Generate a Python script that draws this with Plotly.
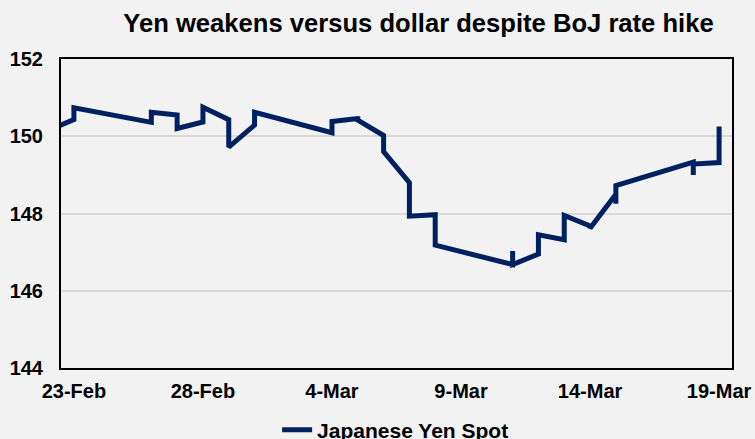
import plotly.graph_objects as go

# Intraday-ish readings: several values per date produce the vertical steps
dates = [
    "2024-02-22",
    "2024-02-23", "2024-02-23",
    "2024-02-26", "2024-02-26",
    "2024-02-27", "2024-02-27",
    "2024-02-28", "2024-02-28",
    "2024-02-29", "2024-02-29",
    "2024-03-01", "2024-03-01",
    "2024-03-04", "2024-03-04",
    "2024-03-05", "2024-03-05", "2024-03-05",
    "2024-03-06", "2024-03-06",
    "2024-03-07", "2024-03-07",
    "2024-03-08", "2024-03-08",
    "2024-03-11", "2024-03-11", "2024-03-11",
    "2024-03-12", "2024-03-12",
    "2024-03-13", "2024-03-13",
    "2024-03-14", "2024-03-14",
    "2024-03-15", "2024-03-15", "2024-03-15",
    "2024-03-18", "2024-03-18", "2024-03-18",
    "2024-03-19", "2024-03-19",
]
yen_spot = [
    150.15,
    150.43, 150.74,
    150.36, 150.62,
    150.55, 150.20,
    150.37, 150.75,
    150.43, 149.72,
    150.29, 150.62,
    150.09, 150.38,
    150.46, 150.52, 150.42,
    150.02, 149.60,
    148.80, 147.93,
    147.97, 147.18,
    146.68, 147.03, 146.68,
    146.95, 147.45,
    147.32, 147.95,
    147.68, 147.62,
    148.50, 148.25, 148.72,
    149.33, 149.00, 149.28,
    149.32, 150.25,
]
series_name = "Japanese Yen Spot"
title_text = "Yen weakens versus dollar despite BoJ rate hike"
x_tick_vals = ["2024-02-23", "2024-02-28", "2024-03-04", "2024-03-09", "2024-03-14", "2024-03-19"]
x_tick_text = ["23-Feb", "28-Feb", "4-Mar", "9-Mar", "14-Mar", "19-Mar"]
y_tick_vals = [144, 146, 148, 150, 152]

NAVY = "#002060"
BG = "#F2F2F2"
FONT = "Liberation Sans, Arial, sans-serif"

fig = go.Figure()
fig.add_trace(go.Scatter(
    x=dates, y=yen_spot, mode="lines", name=series_name,
    line=dict(color=NAVY, width=5), showlegend=True,
))

fig.update_layout(
    width=755, height=439,
    margin=dict(l=61, r=23, t=59, b=71),
    paper_bgcolor=BG, plot_bgcolor=BG,
    font=dict(family=FONT, color="#000000"),
    title=dict(
        text=title_text, x=418.5 / 755, xref="container", xanchor="center",
        y=1 - 23 / 439, yref="container", yanchor="middle",
        font=dict(size=25.6, weight="bold", family=FONT, color="#000000"),
    ),
    legend=dict(
        orientation="h", xref="container", x=0.524, xanchor="center",
        yref="container", y=1 - 430 / 439, yanchor="middle",
        font=dict(size=21, weight="bold", family=FONT, color="#000000"),
        bgcolor="rgba(0,0,0,0)",
    ),
    showlegend=True,
)

fig.update_xaxes(
    type="date",
    range=["2024-02-22 12:00", "2024-03-19 12:00"],
    tickmode="array", tickvals=x_tick_vals, ticktext=x_tick_text,
    showgrid=False, zeroline=False, automargin=False,
    showline=True, linecolor="#000000", linewidth=2, mirror=True,
    ticks="", ticklabelstandoff=4,
    tickfont=dict(size=20, weight="bold", family=FONT, color="#000000"),
)
fig.update_yaxes(
    range=[144, 152],
    tickmode="array", tickvals=y_tick_vals,
    showgrid=True, gridcolor="#D9D9D9", gridwidth=1.5, zeroline=False, automargin=False,
    showline=True, linecolor="#000000", linewidth=2, mirror=True,
    ticks="", ticklabelstandoff=12,
    tickfont=dict(size=20, weight="bold", family=FONT, color="#000000"),
)

fig.write_html(
    "out.html",
    config={"displayModeBar": False},
    post_script="document.body.style.margin='0';document.body.style.background='#F2F2F2';",
)
